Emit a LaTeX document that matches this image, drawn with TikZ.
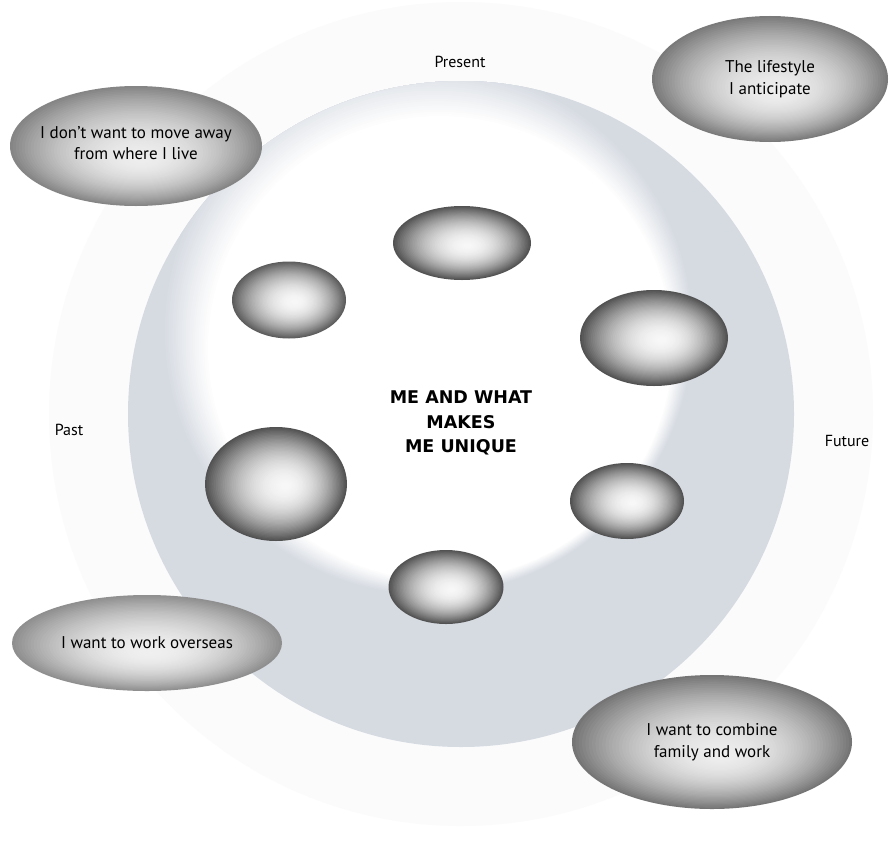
\documentclass[tikz,border=0pt]{standalone}
\usepackage{fontspec}
\setmainfont{PT Sans}
\newfontfamily\centrefont{DejaVu Sans}
\usetikzlibrary{shapes.geometric}
\definecolor{ringgrey}{RGB}{214,219,226}
\definecolor{faintgrey}{RGB}{251,251,252}
% #1,#2 centre; #3,#4 radii; #5,#6 highlight offset; #7 rim white %, #8 centre white %, #9 exponent
\newcommand\shadedegg[9]{%
  \foreach \eggi in {0,...,44}{%
    \pgfmathsetmacro\eggt{1-\eggi/45}%
    \pgfmathsetmacro\eggw{#8-(#8-#7)*(\eggt)^(#9)}%
    \fill[white!\eggw!black] ({#1+(1-\eggt)*(#5)},{#2+(1-\eggt)*(#6)}) ellipse [x radius={#3*\eggt}, y radius={#4*\eggt}];
  }}
\tikzset{
  eggnode/.style={ellipse, inner sep=0pt, draw=none},
  bigtext/.style={align=center, font=\fontsize{17}{21.5}\selectfont, text=black},
  timelabel/.style={font=\fontsize{16}{19}\selectfont, text=black},
}
\begin{document}
\begin{tikzpicture}[x=1pt,y=-1pt]
\useasboundingbox (0,0) rectangle (893,843);
\fill[white] (0,0) rectangle (893,843);
% faint outer circle
\fill[faintgrey] (461,414) circle (412);
% ring disc with a white centre, soft towards the upper left
\fill[ringgrey] (461,414) circle (333);
\begin{scope}
  \clip (461,414) circle (333);
  \foreach \gi in {0,...,24}{%
    \pgfmathsetmacro\gx{428+12*\gi/24}%
    \pgfmathsetmacro\gy{330+18*\gi/24}%
    \pgfmathsetmacro\gr{265-33*\gi/24}%
    \pgfmathsetmacro\gw{100*\gi/24}%
    \fill[white!\gw!ringgrey] (\gx,\gy) circle (\gr);
  }
\end{scope}
% pebbles
\shadedegg{462}{243}{69}{37}{6}{3}{32}{97}{2.0}
\shadedegg{289}{300}{57}{38.5}{6}{2}{36}{97}{2.0}
\shadedegg{654}{338}{74}{48}{8}{2}{32}{97}{2.0}
\shadedegg{276}{484}{71}{57}{10}{2}{32}{97}{2.0}
\shadedegg{627}{501}{57}{38}{6}{2}{32}{97}{2.0}
\shadedegg{446}{587}{57.5}{37}{6}{3}{32}{97}{2.0}
\node[eggnode, minimum width=138pt, minimum height=74pt] (p1) at (462,243) {};
\node[eggnode, minimum width=114pt, minimum height=77pt] (p2) at (289,300) {};
\node[eggnode, minimum width=148pt, minimum height=96pt] (p3) at (654,338) {};
\node[eggnode, minimum width=142pt, minimum height=114pt] (p4) at (276,484) {};
\node[eggnode, minimum width=114pt, minimum height=76pt] (p5) at (627,501) {};
\node[eggnode, minimum width=115pt, minimum height=74pt] (p6) at (446,587) {};
% text ellipses
\shadedegg{136}{146}{126}{60}{6}{14}{52}{93}{2.0}
\shadedegg{770}{79}{118}{63}{8}{14}{48}{93}{2.0}
\shadedegg{147}{643}{135}{48}{4}{10}{56}{94}{2.0}
\shadedegg{712}{742}{140}{67}{10}{14}{46}{93}{2.0}
\node[bigtext] (tl) at (136,143) {I don’t want to move away\\from where I live};
\node[bigtext] (tr) at (770,79) {The lifestyle\\I anticipate};
\node[bigtext] (bl) at (147,643) {I want to work overseas};
\node[bigtext] (br) at (712,742) {I want to combine\\family and work};
% centre text
\node[font=\centrefont\bfseries\fontsize{17.5}{24.5}\selectfont, align=center, text=black] (me) at (461,423) {ME AND WHAT\\MAKES\\ME UNIQUE};
% time labels
\node[timelabel] (present) at (460,62) {Present};
\node[timelabel] (past) at (69,430) {Past};
\node[timelabel] (future) at (847,441) {Future};
\end{tikzpicture}
\end{document}
